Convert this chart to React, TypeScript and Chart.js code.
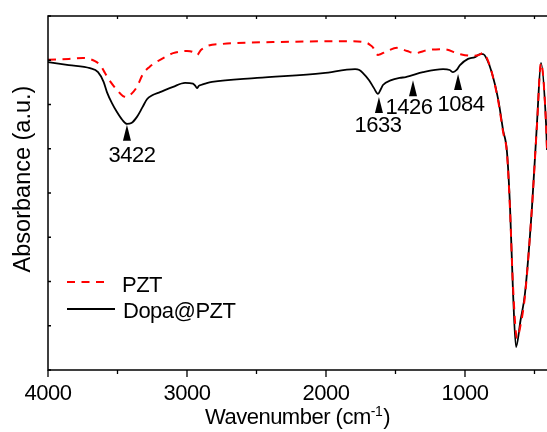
import { useEffect, useRef } from "react";
import { Chart, registerables } from "chart.js";

Chart.register(...registerables);

const FONT = '"Liberation Sans", Arial, sans-serif';

// ---- data ----
const pztWavenumber = [4000, 3850, 3748, 3662, 3620, 3590, 3550, 3504, 3460, 3432, 3400, 3360, 3317, 3270, 3230, 3160, 3100, 3000, 2960, 2928, 2900, 2856, 2741, 2381, 1827, 1705, 1680, 1660, 1640, 1626, 1560, 1489, 1417, 1360, 1266, 1158, 1036, 950, 900, 870, 840, 806, 760, 726, 698, 676, 655, 626, 600, 568, 518, 482, 453, 417, 410];
const pztAbsorbance = [7.01, 7.03, 7.05, 6.98, 6.87, 6.71, 6.51, 6.33, 6.19, 6.17, 6.24, 6.4, 6.69, 6.85, 6.94, 7.07, 7.16, 7.21, 7.19, 7.12, 7.23, 7.32, 7.37, 7.41, 7.43, 7.39, 7.34, 7.28, 7.16, 7.12, 7.21, 7.28, 7.21, 7.16, 7.23, 7.25, 7.14, 7.1, 7.12, 7.16, 7.03, 6.71, 6.06, 5.38, 4.9, 3.62, 1.92, 0.72, 1.02, 1.69, 3.68, 5.54, 6.94, 5.58, 4.97];

const dopaWavenumber = [4000, 3850, 3698, 3640, 3600, 3576, 3540, 3504, 3465, 3432, 3400, 3360, 3320, 3288, 3250, 3194, 3100, 3014, 2957, 2940, 2928, 2915, 2900, 2870, 2820, 2496, 2022, 1791, 1760, 1734, 1690, 1655, 1626, 1605, 1590, 1530, 1470, 1426, 1400, 1302, 1158, 1110, 1086, 1060, 1036, 978, 928, 892, 870, 840, 806, 760, 726, 698, 676, 655, 633, 600, 568, 518, 482, 453, 417, 410];
const dopaAbsorbance = [6.96, 6.89, 6.82, 6.73, 6.51, 6.28, 6.03, 5.83, 5.65, 5.56, 5.58, 5.72, 5.94, 6.12, 6.21, 6.28, 6.4, 6.49, 6.47, 6.42, 6.37, 6.42, 6.44, 6.47, 6.51, 6.6, 6.71, 6.8, 6.78, 6.71, 6.55, 6.37, 6.24, 6.35, 6.44, 6.55, 6.6, 6.62, 6.64, 6.73, 6.8, 6.78, 6.73, 6.78, 6.89, 7.03, 7.07, 7.14, 7.14, 7.01, 6.71, 6.1, 5.42, 4.93, 3.68, 1.81, 0.52, 1.13, 1.74, 3.68, 5.58, 6.94, 5.58, 4.97];

const seriesNames = ["PZT", "Dopa@PZT"];
const xMajorTicks = [1000, 2000, 3000, 4000];
const xMinorTicks = [500, 1500, 2500, 3500];
const yTicks = [0, 1, 2, 3, 4, 5, 6, 7, 8];
const peakLabels = ["3422", "1633", "1426", "1084"];
const peakMarkerWavenumber = [3432, 1619, 1374, 1050];
const peakMarkerAbsorbance = [5.54, 6.17, 6.55, 6.69];
const xAxisTitle = "Wavenumber (cm";
const xAxisTitleSup = "-1";
const yAxisTitle = "Absorbance (a.u.)";

// label offsets relative to the marker apex (style, not data)
const peakLabelOffsets = [
  [5, 37],
  [-1, 35],
  [-4, 34],
  [3, 37],
];

const decorPlugin = {
  id: "decor",
  beforeDraw(chart: any) {
    chart.ctx.letterSpacing = "-0.5px";
  },
  afterDraw(chart: any) {
    const ctx = chart.ctx as CanvasRenderingContext2D;
    const xs = chart.scales.x;
    const ys = chart.scales.y;
    const { left, right, top, bottom } = chart.chartArea;
    ctx.save();
    ctx.strokeStyle = "#000";
    ctx.fillStyle = "#000";
    ctx.lineWidth = 1.5;
    ctx.setLineDash([]);
    // frame
    ctx.beginPath();
    ctx.moveTo(right + 2, top);
    ctx.lineTo(left, top);
    ctx.lineTo(left, bottom);
    ctx.lineTo(right + 2, bottom);
    ctx.stroke();
    // bottom ticks
    ctx.lineWidth = 1.3;
    ctx.beginPath();
    xMajorTicks.forEach((v) => {
      const px = xs.getPixelForValue(v);
      ctx.moveTo(px, bottom);
      ctx.lineTo(px, bottom + 7);
    });
    xMinorTicks.forEach((v) => {
      const px = xs.getPixelForValue(v);
      ctx.moveTo(px, bottom);
      ctx.lineTo(px, bottom + 4);
    });
    // top ticks (inward)
    [...xMajorTicks, ...xMinorTicks].forEach((v) => {
      const px = xs.getPixelForValue(v);
      if (px > left + 1 && px < right) {
        ctx.moveTo(px, top);
        ctx.lineTo(px, top + 3);
      }
    });
    // left ticks (inward)
    yTicks.forEach((v) => {
      const py = ys.getPixelForValue(v);
      ctx.moveTo(left, py);
      ctx.lineTo(left + 3, py);
    });
    ctx.stroke();

    // peak markers
    ctx.font = `22px ${FONT}`;
    ctx.textAlign = "center";
    ctx.textBaseline = "alphabetic";
    peakLabels.forEach((lab, i) => {
      const px = xs.getPixelForValue(peakMarkerWavenumber[i]);
      const py = ys.getPixelForValue(peakMarkerAbsorbance[i]);
      ctx.beginPath();
      ctx.moveTo(px, py);
      ctx.lineTo(px - 4, py + 16);
      ctx.lineTo(px + 4, py + 16);
      ctx.closePath();
      ctx.fill();
      ctx.fillText(lab, px + peakLabelOffsets[i][0], py + peakLabelOffsets[i][1]);
    });

    // legend
    ctx.lineWidth = 2;
    ctx.strokeStyle = "#ff0000";
    ctx.setLineDash([8, 6.5]);
    ctx.beginPath();
    ctx.moveTo(67, 282);
    ctx.lineTo(109, 282);
    ctx.stroke();
    ctx.setLineDash([]);
    ctx.strokeStyle = "#000";
    ctx.beginPath();
    ctx.moveTo(67, 309);
    ctx.lineTo(115, 309);
    ctx.stroke();
    ctx.textAlign = "left";
    ctx.fillText(seriesNames[0], 122, 291.5);
    ctx.fillText(seriesNames[1], 123, 317.5);

    // x title
    ctx.font = `22px ${FONT}`;
    const w1 = ctx.measureText(xAxisTitle).width;
    ctx.font = `14px ${FONT}`;
    const w2 = ctx.measureText(xAxisTitleSup).width;
    ctx.font = `22px ${FONT}`;
    const w3 = ctx.measureText(")").width;
    const total = w1 + w2 + w3 + 1;
    let x0 = (left + right) / 2 - total / 2;
    const base = 424;
    ctx.fillText(xAxisTitle, x0, base);
    x0 += w1;
    ctx.font = `14px ${FONT}`;
    ctx.fillText(xAxisTitleSup, x0, base - 8);
    x0 += w2 + 1;
    ctx.font = `22px ${FONT}`;
    ctx.fillText(")", x0, base);

    // y title
    ctx.letterSpacing = "0px";
    ctx.font = `23.5px ${FONT}`;
    ctx.translate(30, 179);
    ctx.rotate(-Math.PI / 2);
    ctx.textAlign = "center";
    ctx.fillText(yAxisTitle, 0, 0);
    ctx.restore();
  },
};

export default function App() {
  const ref = useRef<HTMLCanvasElement | null>(null);
  useEffect(() => {
    if (!ref.current) return;
    const chart = new Chart(ref.current, {
      type: "line",
      data: {
        datasets: [
          {
            label: seriesNames[0],
            data: pztWavenumber.map((x, i) => ({ x, y: pztAbsorbance[i] })),
            borderColor: "#ff0000",
            borderWidth: 2,
            borderDash: [8, 6.5],
            pointRadius: 0,
            cubicInterpolationMode: "monotone",
            fill: false,
          },
          {
            label: seriesNames[1],
            data: dopaWavenumber.map((x, i) => ({ x, y: dopaAbsorbance[i] })),
            borderColor: "#000000",
            borderWidth: 1.8,
            pointRadius: 0,
            cubicInterpolationMode: "monotone",
            fill: false,
          },
        ],
      },
      options: {
        animation: false,
        responsive: false,
        devicePixelRatio: 1,
        layout: { padding: { top: 16, left: 0, right: 0, bottom: 0 } },
        plugins: { legend: { display: false }, tooltip: { enabled: false } },
        scales: {
          x: {
            type: "linear",
            reverse: true,
            min: 410,
            max: 4000,
            grid: { display: false, drawTicks: false },
            border: { display: false },
            afterBuildTicks: (s: any) => {
              s.ticks = xMajorTicks.map((v) => ({ value: v }));
            },
            afterFit: (s: any) => {
              s.height = 62;
              s.paddingLeft = 0;
              s.paddingRight = 0;
            },
            ticks: {
              autoSkip: false,
              maxRotation: 0,
              padding: 11,
              color: "#000",
              font: { family: FONT, size: 22 },
              callback: (v: any) => String(v),
            },
          },
          y: {
            min: 0,
            max: 8,
            grid: { display: false, drawTicks: false },
            border: { display: false },
            ticks: { display: false },
            afterFit: (s: any) => {
              s.width = 48;
              s.paddingTop = 0;
              s.paddingBottom = 0;
            },
          },
        },
      },
      plugins: [decorPlugin],
    } as any);
    return () => chart.destroy();
  }, []);
  return (
    <div style={{ position: "absolute", left: 0, top: 0, width: 547, height: 432, overflow: "hidden", background: "#fff" }}>
      <canvas ref={ref} width={547} height={432} style={{ display: "block" }} />
    </div>
  );
}
